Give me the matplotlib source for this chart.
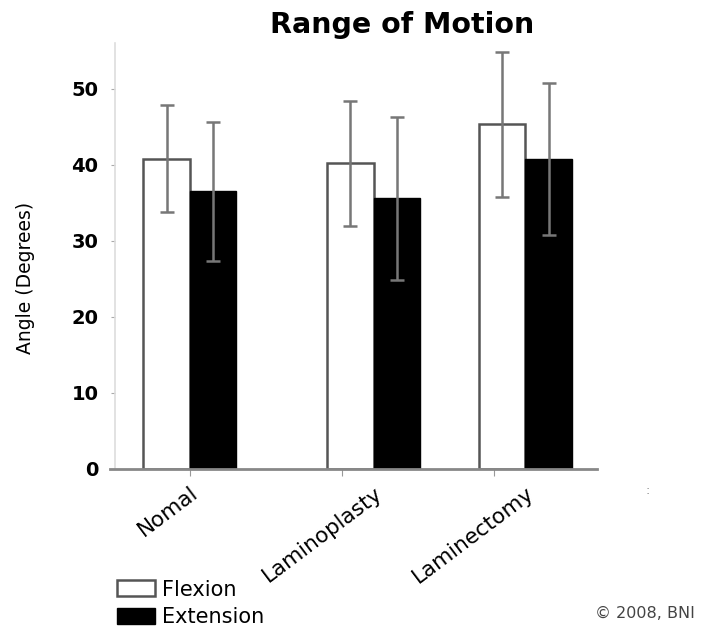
import numpy as np
import matplotlib
matplotlib.use("Agg")
import matplotlib.pyplot as plt
from matplotlib.patches import Patch

plt.rcParams['font.family'] = ['DejaVu Sans']

groups = ['Nomal', 'Laminoplasty', 'Laminectomy']
flexion = [40.8, 40.2, 45.3]
flexion_err = [7.0, 8.2, 9.5]
extension = [36.5, 35.6, 40.7]
extension_err = [9.1, 10.7, 10.0]
yticks = [0, 10, 20, 30, 40, 50]

# the original drawing has the bar pairs slightly off their ticks
tick_pos = np.arange(len(groups))
bar_pos = np.array([0.0, 1.208, 2.207])

fig = plt.figure(figsize=(7.05, 6.29), dpi=100)
ax = fig.add_axes([110/705, 1 - 469/629, (597 - 110)/705, (469 - 43)/629])

w = 0.306
ekw = dict(ecolor='#777777', elinewidth=1.8, capsize=5, capthick=1.8)
ax.bar(bar_pos - w/2, flexion, w, color='white', edgecolor='#555555', linewidth=1.8,
       yerr=flexion_err, error_kw=ekw)
ax.bar(bar_pos + w/2, extension, w, color='black', edgecolor='black', linewidth=1.0,
       yerr=extension_err, error_kw=ekw)

# spines first: set_position resets the ticks
for s in ['top', 'right']:
    ax.spines[s].set_visible(False)
ax.spines['left'].set_position(('axes', 5/487))
ax.spines['left'].set_color('#dddddd')
ax.spines['left'].set_linewidth(1.2)
ax.spines['bottom'].set_color('#888888')
ax.spines['bottom'].set_linewidth(2.0)

ax.set_xlim(-0.526, 2.678)
ax.set_ylim(0, 56)
ax.tick_params(axis='y', length=3, color='#aaaaaa', pad=9, labelsize=14)
ax.set_yticks(yticks)
ax.set_yticklabels([str(v) for v in yticks], fontsize=14, fontweight='bold')

# tick marks on the major ticks, names under the bar pairs
ax.xaxis.remove_overlapping_locs = False
ax.tick_params(axis='x', which='major', length=5, color='#999999')
ax.tick_params(axis='x', which='minor', length=0, pad=10)
ax.set_xticks(tick_pos)
ax.set_xticklabels([])
ax.set_xticks(bar_pos, minor=True)
ax.set_xticklabels(groups, minor=True, rotation=37, ha='right', va='top',
                   rotation_mode='anchor', fontsize=15.5)

fig.text(26/705, 1 - 278/629, 'Angle (Degrees)', rotation=90, ha='center', va='center',
         fontsize=13.5)
fig.text(402/705, 1 - 33/629, 'Range of Motion', ha='center', va='baseline',
         fontsize=20.5, fontweight='bold')

handles = [Patch(facecolor='white', edgecolor='#555555', linewidth=1.8),
           Patch(facecolor='black', edgecolor='black')]
fig.legend(handles, ['Flexion', 'Extension'], loc='lower left',
           bbox_to_anchor=(115/705, 0.0), frameon=False, fontsize=15,
           borderpad=0, borderaxespad=0.1,
           handlelength=1.8, handleheight=0.8, handletextpad=0.35, labelspacing=0.35)

fig.text(695/705, 1 - 614/629, '\u00a9 2008, BNI', ha='right', va='center',
         fontsize=11.5, color='#444444')
fig.text(648/705, 1 - 490/629, ':', ha='center', va='center', fontsize=9, color='#888888')

fig.savefig('out.png', dpi=100)
